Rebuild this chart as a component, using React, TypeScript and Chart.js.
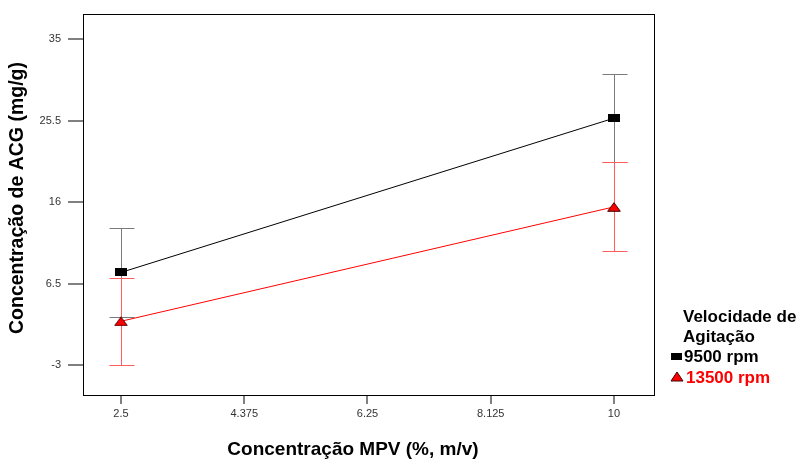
import React, { useEffect, useRef } from "react";
import { Chart, registerables } from "chart.js";

Chart.register(...registerables);

const xValues = [2.5, 10];
const series9500 = [7.8, 25.8];
const series13500 = [2.1, 15.45];
const err9500 = [5.15, 5.15];
const err13500 = [5.1, 5.2];
const xTicks = [2.5, 4.375, 6.25, 8.125, 10];
const yTicks = [35, 25.5, 16, 6.5, -3];
const seriesNames = ["9500 rpm", "13500 rpm"];
const legendTitle = ["Velocidade de", "Agitação"];
const xTitle = "Concentração MPV (%, m/v)";
const yTitle = "Concentração de ACG (mg/g)";

function makeSquare() {
  const c = document.createElement("canvas");
  c.width = 12;
  c.height = 8;
  const g = c.getContext("2d")!;
  g.fillStyle = "#000";
  g.fillRect(0, 0, 12, 8);
  return c;
}
function makeTriangle() {
  const c = document.createElement("canvas");
  c.width = 14;
  c.height = 10;
  const g = c.getContext("2d")!;
  g.beginPath();
  g.moveTo(7, 0.8);
  g.lineTo(13.3, 9.3);
  g.lineTo(0.7, 9.3);
  g.closePath();
  g.fillStyle = "#ff0000";
  g.fill();
  g.strokeStyle = "#400000";
  g.lineWidth = 1;
  g.stroke();
  return c;
}

export default function App() {
  const ref = useRef<HTMLCanvasElement>(null);
  useEffect(() => {
    const sq = makeSquare();
    const tri = makeTriangle();
    const errs = [err9500, err13500];
    const errColors = ["#7a7a7a", "#ff5c5c"];

    const plugin = {
      id: "custom",
      beforeDatasetsDraw(chart: any) {
        const ctx = chart.ctx;
        const xs = chart.scales.x;
        const ys = chart.scales.y;
        ctx.save();
        chart.data.datasets.forEach((ds: any, i: number) => {
          ctx.strokeStyle = errColors[i];
          ctx.lineWidth = 1;
          ds.data.forEach((p: any, j: number) => {
            const x = Math.round(xs.getPixelForValue(p.x)) + 0.5;
            const yt = Math.round(ys.getPixelForValue(p.y + errs[i][j])) + 0.5;
            const yb = Math.round(ys.getPixelForValue(p.y - errs[i][j])) + 0.5;
            ctx.beginPath();
            ctx.moveTo(x, yt);
            ctx.lineTo(x, yb);
            ctx.moveTo(x - 12, yt);
            ctx.lineTo(x + 13, yt);
            ctx.moveTo(x - 12, yb);
            ctx.lineTo(x + 13, yb);
            ctx.stroke();
          });
        });
        ctx.restore();
      },
      afterDraw(chart: any) {
        const ctx = chart.ctx;
        const a = chart.chartArea;
        ctx.save();
        ctx.strokeStyle = "#000";
        ctx.lineWidth = 1;
        ctx.strokeRect(Math.round(a.left) + 0.5, Math.round(a.top) + 0.5, Math.round(a.right - a.left), Math.round(a.bottom - a.top));
        ctx.fillStyle = "#000";
        ctx.font = "bold 19px 'Liberation Sans', Arial, sans-serif";
        ctx.textAlign = "center";
        ctx.textBaseline = "middle";
        ctx.fillText(xTitle, 353, 450);
        ctx.save();
        ctx.translate(18, 198);
        ctx.rotate(-Math.PI / 2);
        ctx.font = "bold 19.5px 'Liberation Sans', Arial, sans-serif";
        ctx.fillText(yTitle, 0, 0);
        ctx.restore();
        ctx.font = "bold 17px 'Liberation Sans', Arial, sans-serif";
        ctx.textAlign = "left";
        ctx.fillText(legendTitle[0], 683, 317);
        ctx.fillText(legendTitle[1], 683, 337);
        ctx.fillText(seriesNames[0], 684, 357);
        ctx.fillStyle = "#ff0000";
        ctx.fillText(seriesNames[1], 686, 378);
        ctx.fillStyle = "#000";
        ctx.fillRect(671, 353, 11, 7);
        ctx.beginPath();
        ctx.moveTo(677, 372);
        ctx.lineTo(683, 381);
        ctx.lineTo(671, 381);
        ctx.closePath();
        ctx.fillStyle = "#ff0000";
        ctx.fill();
        ctx.strokeStyle = "#400000";
        ctx.stroke();
        ctx.restore();
      },
    };

    const chart = new Chart(ref.current!, {
      type: "line",
      data: {
        datasets: [
          {
            label: seriesNames[0],
            data: xValues.map((x, i) => ({ x, y: series9500[i] })),
            borderColor: "#000",
            borderWidth: 1,
            pointStyle: sq as any,
            pointRadius: 6,
          },
          {
            label: seriesNames[1],
            data: xValues.map((x, i) => ({ x, y: series13500[i] })),
            borderColor: "#ff0000",
            borderWidth: 1,
            pointStyle: tri as any,
            pointRadius: 6,
          },
        ],
      },
      options: {
        animation: false,
        responsive: false,
        maintainAspectRatio: false,
        layout: { padding: { left: 0, right: 147, top: 12, bottom: 0 } },
        plugins: { legend: { display: false }, tooltip: { enabled: false } },
        scales: {
          x: {
            type: "linear",
            min: 1.922,
            max: 10.609,
            afterBuildTicks: (s: any) => {
              s.ticks = xTicks.map((v) => ({ value: v }));
            },
            afterFit: (s: any) => {
              s.height = 65;
            },
            ticks: {
              callback: (v: any) => String(v),
              font: { family: "'Liberation Sans', Arial", size: 11 },
              color: "#333",
              padding: 3,
              maxRotation: 0,
              autoSkip: false,
            },
            grid: { drawOnChartArea: false, tickLength: 9, color: "#808080", lineWidth: 2 },
            border: { display: false },
          },
          y: {
            type: "linear",
            min: -6.5,
            max: 38,
            afterBuildTicks: (s: any) => {
              s.ticks = yTicks.map((v) => ({ value: v }));
            },
            afterFit: (s: any) => {
              s.width = 83;
            },
            ticks: {
              callback: (v: any) => String(v),
              font: { family: "'Liberation Sans', Arial", size: 11 },
              color: "#333",
              padding: 7,
              autoSkip: false,
            },
            grid: { drawOnChartArea: false, tickLength: 15, color: "#808080", lineWidth: 2 },
            border: { display: false },
          },
        },
      },
      plugins: [plugin],
    });
    return () => chart.destroy();
  }, []);
  return (
    <div style={{ position: "absolute", left: 0, top: 0, width: 801, height: 460, background: "#fff" }}>
      <canvas ref={ref} width={801} height={460} style={{ width: 801, height: 460 }} />
    </div>
  );
}
